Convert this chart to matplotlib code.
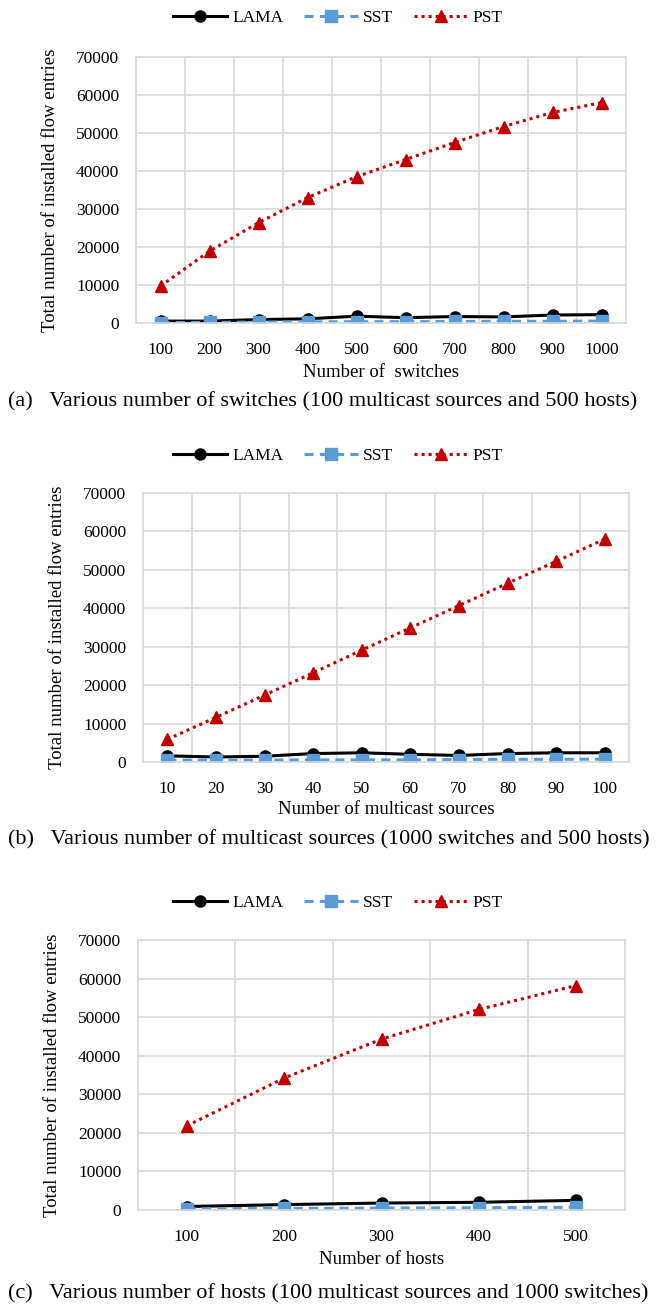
import matplotlib
matplotlib.use("Agg")
from matplotlib import pyplot as plt
import numpy as np

# Datos de las tres figuras
switches = ['100', '200', '300', '400', '500', '600', '700', '800', '900', '1000']
lama_sw = [500, 500, 900, 1100, 1800, 1400, 1700, 1600, 2100, 2200]
sst_sw = [100, 150, 250, 300, 350, 350, 400, 450, 450, 500]
pst_sw = [9700, 18900, 26400, 33000, 38500, 43000, 47500, 51700, 55400, 58000]

sources = ['10', '20', '30', '40', '50', '60', '70', '80', '90', '100']
lama_src = [1600, 1300, 1500, 2200, 2400, 2000, 1700, 2200, 2400, 2400]
sst_src = [500, 500, 500, 550, 550, 550, 650, 700, 700, 750]
pst_src = [5900, 11600, 17400, 23200, 29100, 34900, 40700, 46500, 52200, 58000]

hosts = ['100', '200', '300', '400', '500']
lama_h = [900, 1400, 1800, 2000, 2500]
sst_h = [300, 400, 500, 600, 700]
pst_h = [21800, 34200, 44300, 52000, 58200]

yticks = [0, 10000, 20000, 30000, 40000, 50000, 60000, 70000]

W, H = 662, 1305
plt.rcParams['font.family'] = ['Liberation Serif', 'DejaVu Serif']

fig = plt.figure(figsize=(W / 100, H / 100), dpi=100)

GRID = '#d9d9d9'
BLUE = '#5b9bd5'
RED = '#c00000'


def panel(left, right, top, bottom, cats, lama, sst, pst, xlabel, caption,
          leg_y, xlab_y, cap_y):
    ax = fig.add_axes([left / W, 1 - bottom / H, (right - left) / W, (bottom - top) / H])
    x = np.arange(len(cats))
    l1, = ax.plot(x, lama, color='black', lw=2.2, marker='o', ms=8, label='LAMA')
    l2, = ax.plot(x, sst, color=BLUE, lw=2.2, ls=(0, (3, 2)), marker='s', ms=9,
                  label='SST')
    l3, = ax.plot(x, pst, color=RED, lw=2.2, ls=(0, (1, 1.3)), marker='^', ms=9,
                  label='PST')
    ax.set_xlim(-0.5, len(cats) - 0.5)
    ax.set_ylim(0, 70000)
    ax.set_yticks(yticks)
    ax.set_yticklabels([str(v) for v in yticks])
    ax.set_xticks(x)
    ax.set_xticklabels(cats)
    ax.set_xticks(np.arange(len(cats) + 1) - 0.5, minor=True)
    ax.grid(True, which='minor', axis='x', color=GRID, lw=1.2)
    ax.grid(True, which='major', axis='y', color=GRID, lw=1.2)
    ax.set_axisbelow(True)
    for s in ax.spines.values():
        s.set_color(GRID)
        s.set_linewidth(1.2)
    ax.tick_params(axis='both', which='both', length=0, labelsize=12.5)
    ax.tick_params(axis='x', pad=14)
    ax.tick_params(axis='y', pad=12)
    ax.set_ylabel('Total number of installed flow entries', fontsize=13.5, labelpad=12)

    fig.text((left + right) / 2 / W, 1 - xlab_y / H, xlabel, fontsize=13.5,
             ha='center', va='center')
    fig.text(8 / W, 1 - cap_y / H, caption, fontsize=16, ha='left', va='center')
    ax.legend(handles=[l1, l2, l3], loc='center', ncol=3, frameon=False,
              bbox_to_anchor=(338 / W, 1 - leg_y / H), bbox_transform=fig.transFigure,
              fontsize=12.5, handlelength=3.1, handletextpad=0.3, columnspacing=1.2)
    return ax


panel(136, 626, 57, 323, switches, lama_sw, sst_sw, pst_sw,
      'Number of  switches',
      '(a)   Various number of switches (100 multicast sources and 500 hosts)',
      18, 372, 402)
panel(143, 629, 493, 762, sources, lama_src, sst_src, pst_src,
      'Number of multicast sources',
      '(b)   Various number of multicast sources (1000 switches and 500 hosts)',
      456, 810, 840)
panel(138, 625, 940, 1210, hosts, lama_h, sst_h, pst_h,
      'Number of hosts',
      '(c)   Various number of hosts (100 multicast sources and 1000 switches)',
      903, 1259, 1294)

fig.savefig('out.png', dpi=100)
